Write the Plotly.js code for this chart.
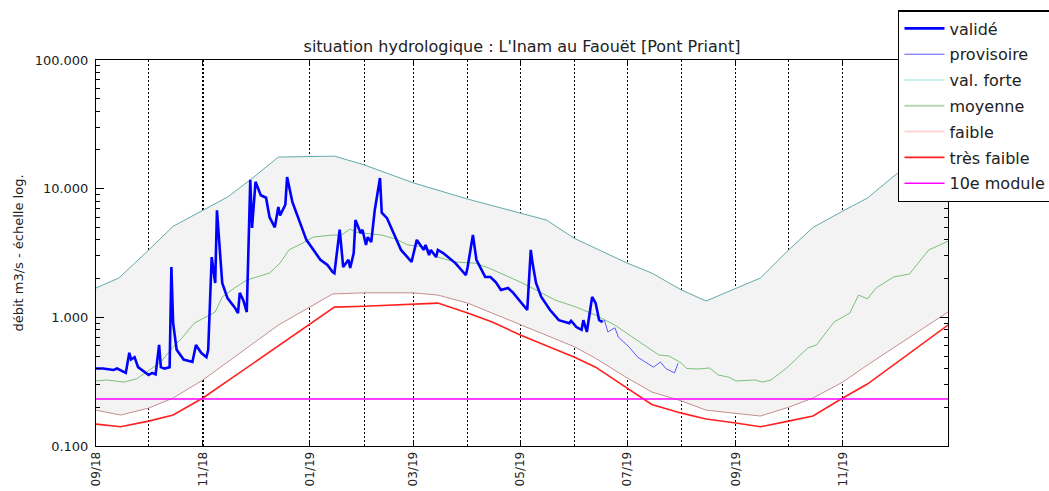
<!DOCTYPE html>
<html>
<head>
<meta charset="utf-8">
<script src="https://cdn.plot.ly/plotly-3.0.1.min.js"></script>
<style>html,body{margin:0;padding:0;background:#fff;}#chart{width:1049px;height:491px;}</style>
</head>
<body>
<div id="chart"></div>
<script>
// ---- data ----
const validDates = ['2018-09-01','2018-09-05','2018-09-11','2018-09-13','2018-09-18','2018-09-20','2018-09-21','2018-09-23','2018-09-25','2018-09-29',
 '2018-10-01','2018-10-03','2018-10-05','2018-10-07','2018-10-08','2018-10-10','2018-10-13','2018-10-14','2018-10-15','2018-10-17','2018-10-21','2018-10-26','2018-10-28','2018-10-31',
 '2018-11-03','2018-11-04','2018-11-06','2018-11-08','2018-11-09','2018-11-12','2018-11-15','2018-11-19','2018-11-21','2018-11-22','2018-11-24','2018-11-26','2018-11-28','2018-11-29',
 '2018-12-01','2018-12-04','2018-12-07','2018-12-09','2018-12-12','2018-12-14','2018-12-15','2018-12-18','2018-12-19','2018-12-22','2018-12-30',
 '2019-01-07','2019-01-11','2019-01-14','2019-01-15','2019-01-18','2019-01-20','2019-01-23','2019-01-24','2019-01-26','2019-01-27','2019-01-30','2019-01-31',
 '2019-02-02','2019-02-03','2019-02-05','2019-02-07','2019-02-10','2019-02-11','2019-02-14','2019-02-19','2019-02-22','2019-02-28',
 '2019-03-03','2019-03-05','2019-03-07','2019-03-08','2019-03-10','2019-03-11','2019-03-14','2019-03-15','2019-03-18','2019-03-25','2019-03-31',
 '2019-04-01','2019-04-04','2019-04-06','2019-04-11','2019-04-14','2019-04-17','2019-04-20','2019-04-24','2019-04-27',
 '2019-05-01','2019-05-05','2019-05-07','2019-05-08','2019-05-10','2019-05-13','2019-05-18','2019-05-23','2019-05-29','2019-05-30',
 '2019-06-02','2019-06-05','2019-06-06','2019-06-08','2019-06-11','2019-06-13','2019-06-15','2019-06-17'];
const validValues = [0.40,0.40,0.39,0.40,0.37,0.53,0.47,0.49,0.41,0.37,
 0.356,0.37,0.36,0.61,0.41,0.40,0.41,2.46,0.90,0.56,0.47,0.45,0.61,0.53,
 0.49,0.56,2.94,1.85,6.8,1.85,1.41,1.20,1.08,1.55,1.36,1.10,11.7,4.95,
 11.3,8.9,8.5,6.0,5.0,7.2,6.2,7.5,12.3,7.9,4.0,
 2.8,2.55,2.25,2.2,4.8,2.46,2.8,2.42,3.16,5.7,4.5,4.8,
 3.65,4.2,3.85,6.8,12.1,6.5,5.9,4.2,3.34,2.7,
 4.0,3.65,3.34,3.65,3.05,3.34,2.94,3.34,3.16,2.64,2.13,
 2.46,4.36,2.8,2.06,2.06,1.88,1.63,1.69,1.55,
 1.32,1.14,3.34,2.64,1.85,1.44,1.14,0.95,0.90,0.94,
 0.84,0.80,0.95,0.77,1.44,1.29,0.95,0.92];

const provDates = ['2019-06-17','2019-06-18','2019-06-20','2019-06-24','2019-06-26','2019-07-02','2019-07-07','2019-07-16','2019-07-20','2019-07-23','2019-07-28','2019-07-30'];
const provValues = [0.92,0.95,0.77,0.83,0.70,0.59,0.49,0.41,0.45,0.40,0.37,0.44];

const forteDates = ['2018-09-01','2018-09-14','2018-10-01','2018-10-15','2018-11-15','2018-11-28','2018-12-14','2019-01-15','2019-02-01','2019-03-01','2019-04-01','2019-05-01','2019-05-16','2019-06-01','2019-07-01','2019-07-15','2019-08-01','2019-08-15','2019-09-01','2019-09-15','2019-10-01','2019-10-15','2019-11-01','2019-11-15','2019-12-01','2019-12-15','2019-12-31'];
const forteValues = [1.69,2.02,3.33,5.1,8.6,11.7,17.6,17.9,15.3,11.1,8.3,6.5,5.7,4.1,2.64,2.21,1.63,1.34,1.69,2.02,3.33,5.0,6.7,8.45,12.8,17.6,17.9];

const moyDates = ['2018-09-01','2018-09-07','2018-09-17','2018-09-24','2018-09-30','2018-10-08','2018-10-15','2018-10-20','2018-10-27','2018-11-02','2018-11-08','2018-11-12','2018-11-19','2018-11-26','2018-12-09','2018-12-15','2018-12-20','2018-12-28','2019-01-03','2019-01-14','2019-01-19','2019-01-24','2019-01-27','2019-02-05','2019-02-11','2019-02-19','2019-02-26','2019-03-08','2019-03-15','2019-03-25','2019-04-05','2019-04-13','2019-04-22','2019-05-01','2019-05-10','2019-05-21','2019-06-02','2019-06-13','2019-06-24','2019-07-02','2019-07-09','2019-07-19','2019-07-25','2019-08-01','2019-08-04','2019-08-11','2019-08-17','2019-08-22','2019-08-28','2019-09-01','2019-09-12','2019-09-16','2019-09-21','2019-09-30','2019-10-12','2019-10-17','2019-10-27','2019-11-05','2019-11-10','2019-11-15','2019-11-20','2019-11-30','2019-12-09','2019-12-20','2019-12-31'];
const moyValues = [0.32,0.326,0.314,0.332,0.376,0.45,0.589,0.69,0.90,1.0,1.10,1.44,1.69,1.95,2.21,2.64,3.34,3.78,4.21,4.36,4.36,4.86,4.6,4.44,4.36,4.06,3.65,3.52,2.94,2.69,2.64,2.42,2.13,1.88,1.63,1.36,1.2,1.04,0.87,0.73,0.63,0.51,0.50,0.44,0.40,0.397,0.404,0.356,0.343,0.32,0.326,0.314,0.326,0.404,0.578,0.61,0.92,1.08,1.49,1.39,1.69,2.06,2.17,3.34,3.9];

const faibleDates = ['2018-09-01','2018-09-15','2018-10-01','2018-10-15','2018-11-01','2018-12-14','2019-01-14','2019-02-01','2019-03-01','2019-03-15','2019-04-01','2019-04-15','2019-05-01','2019-06-01','2019-06-13','2019-07-01','2019-07-15','2019-08-01','2019-08-15','2019-09-01','2019-09-15','2019-10-01','2019-10-15','2019-11-01','2019-11-15','2019-12-31'];
const faibleValues = [0.19,0.174,0.197,0.236,0.326,0.87,1.52,1.55,1.55,1.49,1.29,1.08,0.87,0.59,0.48,0.338,0.263,0.224,0.19,0.18,0.171,0.20,0.236,0.314,0.426,1.1];

const tresFaibleDates = ['2018-09-01','2018-09-15','2018-10-01','2018-10-15','2018-11-01','2019-01-15','2019-02-01','2019-03-01','2019-03-15','2019-04-01','2019-04-15','2019-05-01','2019-06-01','2019-06-13','2019-07-01','2019-07-15','2019-08-01','2019-08-15','2019-09-01','2019-09-15','2019-10-01','2019-10-15','2019-11-01','2019-11-15','2019-12-31'];
const tresFaibleValues = [0.148,0.141,0.156,0.174,0.236,1.20,1.22,1.26,1.29,1.08,0.92,0.73,0.49,0.41,0.28,0.21,0.18,0.162,0.151,0.141,0.156,0.171,0.236,0.303,0.87];

const module10Dates = ['2018-09-01','2019-12-31'];
const module10Values = [0.232,0.232];

const xRange = ['2018-09-01','2019-12-31'];
const majorTickDates = ['2018-09-01','2018-11-01','2019-01-01','2019-03-01','2019-05-01','2019-07-01','2019-09-01','2019-11-01'];
const majorTickLabels = ['09/18','11/18','01/19','03/19','05/19','07/19','09/19','11/19'];
const minorTickDates = ['2018-10-01','2019-02-01','2019-04-01','2019-06-01','2019-08-01','2019-10-01'];
const yTickVals = [0.1,1,10,100];
const yTickText = ['0.100','1.000','10.000','100.000'];
const yMinorVals = [0.2,0.3,0.4,0.5,0.6,0.7,0.8,0.9,2,3,4,5,6,7,8,9,20,30,40,50,60,70,80,90];

const legendNames = ['validé','provisoire','val. forte','moyenne','faible','très faible','10e module'];

// ---- traces ----
const font = 'DejaVu Sans, sans-serif';
const traces = [
  {x: faibleDates, y: faibleValues, mode:'lines', line:{color:'#c48e8e', width:1}, showlegend:false, hoverinfo:'skip'},
  {x: forteDates, y: forteValues, mode:'lines', line:{color:'#62aaaa', width:1}, fill:'tonexty', fillcolor:'#f3f3f3', showlegend:false, hoverinfo:'skip'},
  {x: moyDates, y: moyValues, mode:'lines', line:{color:'#7cc07c', width:1}, showlegend:false},
  {x: tresFaibleDates, y: tresFaibleValues, mode:'lines', line:{color:'#ff2020', width:1.6}, name: legendNames[5], legendgroup:'g6', legendrank:6},
  {x: module10Dates, y: module10Values, mode:'lines', line:{color:'#ff00ff', width:1.6}, name: legendNames[6], legendgroup:'g7', legendrank:7},
  {x: validDates, y: validValues, mode:'lines', line:{color:'#0000ff', width:2.6}, name: legendNames[0], legendgroup:'g1', legendrank:1},
  {x: provDates, y: provValues, mode:'lines', line:{color:'#5a5aff', width:1}, name: legendNames[1], legendgroup:'g2', legendrank:2},
  // legend-only entries (pale colours as in the reference legend)
  {x:[null], y:[null], mode:'lines', line:{color:'#cdeeee', width:2}, name: legendNames[2], legendgroup:'g3', legendrank:3},
  {x:[null], y:[null], mode:'lines', line:{color:'#b3d9b3', width:2}, name: legendNames[3], legendgroup:'g4', legendrank:4},
  {x:[null], y:[null], mode:'lines', line:{color:'#ffd3d3', width:2}, name: legendNames[4], legendgroup:'g5', legendrank:5}
];

const layout = {
  width: 1049, height: 491,
  margin: {l:96, r:101, t:60, b:45, autoexpand:false},
  paper_bgcolor:'#ffffff', plot_bgcolor:'#ffffff',
  font: {family: font, color:'#222', size:12},
  showlegend: true,
  title: {text:"situation hydrologique : L'Inam au Faouët [Pont Priant]", font:{family:font, size:16, color:'#222'},
          x:0.5, xref:'paper', y:1, yref:'paper', yanchor:'bottom', pad:{b:8}},
  xaxis: {
    type:'date', range: xRange, showline:true, linecolor:'#000', linewidth:1, mirror:'ticks',
    tickmode:'array', tickvals: majorTickDates, ticktext: majorTickLabels, tickangle:-90,
    ticks:'inside', ticklen:6, tickcolor:'#000', tickwidth:1,
    tickfont:{family:font, size:12, color:'#222'},
    showgrid:true, gridcolor:'#000', gridwidth:1.2, griddash:'1.5px,2.5px',
    minor:{tickvals: minorTickDates, showgrid:true, gridcolor:'#000', gridwidth:1.2, griddash:'1.5px,2.5px', ticks:''},
    zeroline:false, fixedrange:true
  },
  yaxis: {
    type:'log', range:[-1,2], showline:true, linecolor:'#000', linewidth:1, mirror:'ticks',
    tickmode:'array', tickvals: yTickVals, ticktext: yTickText,
    ticks:'inside', ticklen:8, tickcolor:'#000', tickwidth:1, ticklabelstandoff:4,
    minor:{tickvals: yMinorVals, ticks:'inside', ticklen:4, tickcolor:'#000', showgrid:false},
    tickfont:{family:font, size:13, color:'#222'},
    showgrid:false, zeroline:false,
    title:{text:'débit m3/s - échelle log.', font:{family:font, size:13, color:'#222'}, standoff:8}
  },
  legend: {
    x: 0.9413, xanchor:'left', y: 1.1295, yanchor:'top',
    bgcolor:'#ffffff', bordercolor:'#000', borderwidth:1.5,
    font:{family:font, size:16, color:'#222'},
    tracegroupgap: 2, traceorder:'grouped', itemwidth:40
  }
};

Plotly.newPlot('chart', traces, layout, {displayModeBar:false, staticPlot:true});
</script>
</body>
</html>
